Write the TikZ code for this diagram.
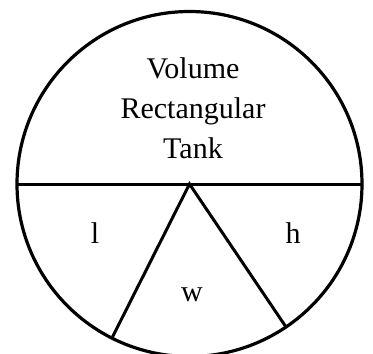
\documentclass[tikz,border=0pt]{standalone}
\usepackage{fontspec}
\setmainfont{Liberation Serif}
\usetikzlibrary{calc}

\begin{document}
\begin{tikzpicture}[
  x=1pt, y=-1pt,
  font=\fontsize{30}{40}\selectfont,
  rim/.style={draw, line width=3.2pt},
  cut/.style={draw, line width=3pt},
  lbl/.style={align=center, inner sep=0pt},
]

\useasboundingbox (0,0) rectangle (373,354);

\coordinate (c) at (189.5,184);
\draw[rim] (c) circle[radius=172.5];

\coordinate (west) at ($(c)+(-172.5,0)$);
\coordinate (east) at ($(c)+(172.5,0)$);
\coordinate (lfoot) at (112,338);
\coordinate (rfoot) at (286,327);

\draw[cut] (west) -- (east);
\draw[cut] (lfoot) -- (c) -- (rfoot);

\node[lbl] (title) at (193,108) {Volume\\Rectangular\\Tank};
\node[lbl] (len)   at (95,233)  {l};
\node[lbl] (hgt)   at (293,233) {h};
\node[lbl] (wid)   at (192,295) {w};

\end{tikzpicture}
\end{document}
